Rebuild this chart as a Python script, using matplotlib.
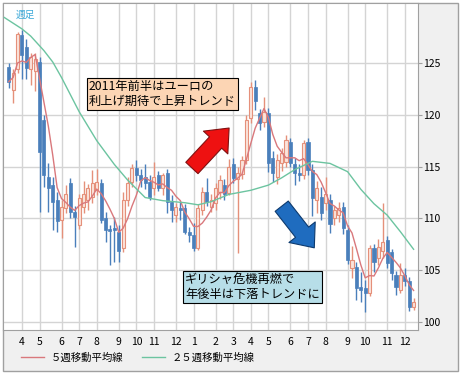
import matplotlib
matplotlib.use("Agg")
import matplotlib.pyplot as plt
import matplotlib.patches as mpatches
from matplotlib.lines import Line2D
import numpy as np
import pandas as pd

plt.rcParams['font.family'] = ['Noto Sans CJK JP', 'DejaVu Sans']

# weekly candles, first week = 2010-03-15
weeks = pd.date_range('2010-03-15', periods=93, freq='7D')

opens = [124.6, 122.4, 124.4, 127.7, 126.5, 124.4, 124.2, 125.1, 119.5, 114.0,
         113.2, 111.8, 109.8, 111.0, 113.4, 110.6, 109.3, 111.1, 111.8, 112.1,
         112.7, 113.4, 110.0, 108.9, 109.0, 108.7, 107.1, 111.8, 113.5, 114.9,
         114.2, 114.0, 113.5, 112.9, 114.2, 112.9, 114.4, 111.6, 110.3, 111.0,
         111.0, 108.7, 108.4, 107.1, 110.8, 112.5, 111.1, 111.5, 112.5, 113.2,
         112.4, 115.2, 113.8, 114.3, 115.6, 119.7, 122.7, 120.2, 119.3, 120.2,
         115.8, 114.0, 115.3, 115.4, 117.4, 115.2, 114.4, 114.2, 117.4, 114.7,
         111.8, 112.1, 111.5, 111.8, 110.0, 110.3, 111.1, 108.9, 105.2, 105.3,
         103.4, 103.3, 102.8, 107.1, 106.2, 106.8, 107.9, 106.7, 104.5, 103.1,
         104.5, 103.9, 101.4]
highs = [125.0, 124.4, 128.0, 128.2, 127.3, 126.0, 126.0, 125.6, 120.0, 115.3,
         114.0, 112.5, 111.8, 113.2, 113.9, 111.2, 112.3, 113.6, 113.3, 114.7,
         114.8, 113.8, 110.6, 109.3, 110.1, 109.3, 112.5, 114.0, 115.2, 115.6,
         114.8, 115.2, 114.2, 115.4, 114.6, 114.4, 114.8, 112.2, 111.5, 111.6,
         111.4, 109.2, 109.5, 111.4, 113.0, 113.9, 112.3, 113.4, 114.2, 113.8,
         115.7, 115.8, 115.0, 116.0, 120.0, 123.2, 123.4, 120.6, 121.7, 120.7,
         116.5, 116.2, 116.8, 118.0, 117.8, 115.8, 115.2, 117.6, 117.8, 115.2,
         113.6, 113.0, 114.0, 112.3, 111.2, 111.6, 111.6, 109.3, 107.3, 105.8,
         104.8, 104.0, 107.4, 107.5, 108.0, 111.5, 108.3, 107.0, 104.9, 105.7,
         105.2, 104.3, 102.3]
lows = [122.6, 121.1, 124.0, 123.5, 123.5, 122.9, 122.3, 110.6, 113.0, 110.6,
        108.9, 108.7, 108.1, 110.5, 110.0, 107.2, 109.0, 110.5, 110.8, 111.5,
        112.2, 109.5, 107.7, 105.5, 105.8, 105.8, 106.7, 111.2, 113.0, 113.6,
        113.0, 112.8, 111.8, 112.2, 112.6, 112.2, 110.5, 109.6, 109.6, 109.8,
        108.5, 107.7, 106.8, 106.9, 110.3, 111.2, 110.6, 110.8, 111.9, 111.8,
        112.2, 113.4, 106.6, 113.8, 115.2, 119.2, 120.5, 118.5, 118.8, 114.5,
        113.5, 113.3, 114.6, 115.0, 115.0, 113.2, 113.6, 113.8, 114.2, 110.2,
        110.5, 109.8, 110.8, 108.6, 109.3, 109.6, 108.5, 105.6, 104.2, 102.1,
        101.9, 100.9, 102.5, 104.8, 105.5, 106.2, 105.2, 104.0, 102.6, 102.8,
        103.5, 101.0, 101.1]
closes = [123.2, 124.0, 127.8, 125.8, 124.5, 125.6, 125.4, 116.4, 114.2, 112.9,
          111.6, 109.7, 111.1, 112.3, 110.6, 110.1, 112.0, 112.3, 112.9, 113.4,
          113.5, 109.8, 108.9, 108.8, 108.9, 106.8, 111.8, 113.4, 114.9, 114.2,
          113.7, 113.4, 112.1, 114.0, 112.9, 114.2, 111.6, 110.8, 111.1, 110.8,
          108.7, 108.4, 107.1, 111.0, 112.5, 111.6, 111.8, 112.9, 113.7, 112.3,
          115.0, 113.9, 114.4, 115.6, 119.5, 122.7, 121.3, 119.2, 120.3, 115.3,
          114.4, 115.6, 116.3, 117.6, 115.3, 114.4, 114.2, 117.3, 114.7, 112.0,
          112.9, 110.5, 112.3, 109.4, 110.8, 111.0, 109.1, 106.0, 106.0, 103.3,
          103.1, 102.8, 107.1, 105.8, 107.2, 107.7, 105.7, 104.7, 103.4, 104.5,
          103.9, 101.4, 101.9]

# 25-week moving average (week index, value)
ma25_week = [-1, 3, 5, 8, 10, 12, 16, 20, 24, 27, 31, 35, 40, 43, 46, 50, 55,
             59, 62, 65, 69, 73, 77, 80, 83, 86, 89, 92]
ma25_val = [129.4, 128.3, 127.6, 126.2, 125.1, 123.6, 120.3, 117.5, 115.2,
            113.7, 112.0, 111.7, 111.5, 111.3, 111.6, 112.3, 112.7, 113.2,
            113.9, 114.7, 115.5, 115.3, 114.5, 112.8, 111.4, 110.3, 108.7, 107.0]

x = np.arange(len(weeks))
o = np.array(opens); h = np.array(highs); l = np.array(lows); c = np.array(closes)
up = c >= o
ma5 = pd.Series(closes).rolling(5, min_periods=1).mean()

bear_col = '#4a7fbb'
bull_edge = '#e5907a'
bull_fill = '#fbe4dc'

W, H = 461, 374
fig = plt.figure(figsize=(W / 100, H / 100), dpi=100)
fig.patch.set_facecolor('white')
fig.patches.append(mpatches.Rectangle((3 / W, 3 / H), 455 / W, 368 / H,
                                      transform=fig.transFigure, facecolor='#f0f0f0',
                                      edgecolor='#a0a0a0', lw=1, zorder=-5))

ax = fig.add_axes([3 / W, (H - 330) / H, 415 / W, 327 / H])
ax.set_zorder(1)
ax.set_facecolor('white')

# candles
ax.vlines(x[up], l[up], h[up], color=bull_edge, lw=1, zorder=2)
ax.vlines(x[~up], l[~up], h[~up], color=bear_col, lw=1, zorder=2)
body_lo = np.minimum(o, c)
body_h = np.maximum(np.abs(c - o), 0.12)
ax.bar(x[up], body_h[up], bottom=body_lo[up], width=0.7, color=bull_fill,
       edgecolor=bull_edge, lw=0.8, zorder=3)
ax.bar(x[~up], body_h[~up], bottom=body_lo[~up], width=0.7, color=bear_col,
       edgecolor=bear_col, lw=0.5, zorder=3)

ax.plot(x, ma5, color='#d9787c', lw=1, zorder=4)
ax.plot(ma25_week, ma25_val, color='#6cc4a0', lw=1, zorder=4)

# month ticks at first week of each month
month_pos = [i for i in range(1, len(weeks)) if weeks[i].month != weeks[i - 1].month]
month_lab = [str(weeks[i].month) for i in month_pos]
ax.set_xticks(month_pos)
ax.set_xticklabels(month_lab, fontsize=7.5)
ax.set_xlim(-1.3, 93.0)
ax.set_ylim(99.2, 130.8)
ax.set_yticks([100, 105, 110, 115, 120, 125])
ax.yaxis.tick_right()
ax.tick_params(axis='y', labelsize=7.5, length=3, color='#a0a0a0', pad=1)
ax.tick_params(axis='x', length=0, pad=5)
ax.grid(True, color='#d4d4d4', lw=1)
ax.set_axisbelow(True)
for s in ax.spines.values():
    s.set_color('#a0a0a0')

ax.text(0.03, 0.965, '週足', transform=ax.transAxes, fontsize=7, color='#3aa8d8',
        va='center', ha='left')

# annotations
fig.text(89 / W, (H - 94) / H, '2011年前半はユーロの\n利上げ期待で上昇トレンド',
         fontsize=8.8, va='center', ha='left', linespacing=1.15, zorder=5,
         bbox=dict(boxstyle='square,pad=0.15', fc='#fcd5b4', ec='black', lw=0.8))
fig.text(185 / W, (H - 287) / H, 'ギリシャ危機再燃で\n年後半は下落トレンドに',
         fontsize=8.8, va='center', ha='left', linespacing=1.15, zorder=5,
         bbox=dict(boxstyle='square,pad=0.15', fc='#b7dee8', ec='black', lw=0.8))

arrow = 'simple,head_width=1.6,head_length=0.95,tail_width=0.8'
fig.patches.append(mpatches.FancyArrowPatch((190, H - 170), (231, H - 126),
                                            arrowstyle=arrow, mutation_scale=15,
                                            fc='#ee1111', ec='#801010', lw=0.8,
                                            transform=None, zorder=6))
fig.patches.append(mpatches.FancyArrowPatch((280, H - 204), (316, H - 250),
                                            arrowstyle=arrow, mutation_scale=15,
                                            fc='#1f6cbf', ec='#0d3a6e', lw=0.8,
                                            transform=None, zorder=6))

handles = [Line2D([], [], color='#d9787c', lw=1), Line2D([], [], color='#6cc4a0', lw=1)]
fig.legend(handles, ['５週移動平均線', '２５週移動平均線'], loc='center left',
           bbox_to_anchor=(12 / W, (H - 358) / H), ncol=2, frameon=False,
           fontsize=7.5, handlelength=2.2, columnspacing=1.8, handletextpad=0.6)

fig.savefig('out.png', dpi=100)
